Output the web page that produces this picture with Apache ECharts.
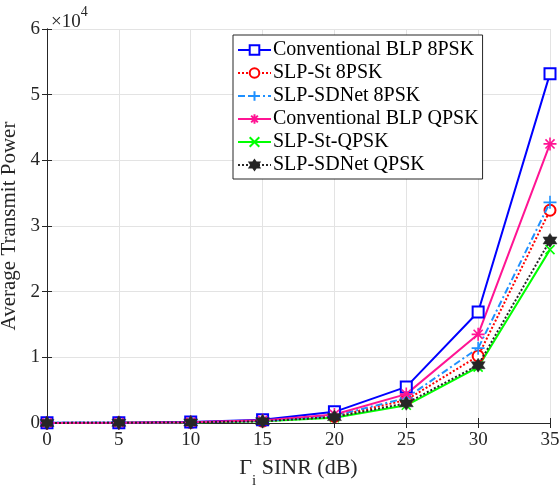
<!DOCTYPE html>
<html><head><meta charset="utf-8">
<script src="https://cdn.jsdelivr.net/npm/echarts@6/dist/echarts.min.js"></script>
<style>html,body{margin:0;padding:0;background:#fff}#c{width:560px;height:488px}</style>
</head><body><div id="c"></div>
<script>
const sinr = [0, 5, 10, 15, 20, 25, 30, 35];
const blp8 = [20, 50, 150, 500, 1700, 5500, 16900, 53200];
const st8 = [15, 35, 100, 300, 1000, 3500, 10200, 32400];
const sd8 = [16, 38, 105, 320, 1100, 3800, 11400, 33600];
const blpQ = [18, 45, 120, 400, 1300, 4400, 13500, 42500];
const stQ = [12, 30, 80, 250, 800, 2700, 8500, 26400];
const sdQ = [13, 32, 85, 270, 900, 3000, 8800, 27800];
const yTicks = [0, 1, 2, 3, 4, 5, 6];

const F = '"Liberation Serif", "Times New Roman", serif';
const plus = 'path://M5,0L5,10M0,5L10,5';
const cross = 'path://M0,0L10,10M0,10L10,0';
const aster = 'path://M5,0L5,10M0,5L10,5M1.5,1.5L8.5,8.5M1.5,8.5L8.5,1.5';
const hexa = 'path://M5,0L6.45,2.5L9.33,2.5L7.9,5L9.33,7.5L6.45,7.5L5,10L3.55,7.5L0.67,7.5L2.1,5L0.67,2.5L3.55,2.5Z';

function mk(name, data, color, type, symbol, size, extra) {
  return Object.assign({
    name, type: 'line', data: sinr.map((x, i) => [x, data[i]]),
    symbol, symbolSize: size, showAllSymbol: true,
    lineStyle: { color, width: 2, type },
    itemStyle: { color, borderColor: color, borderWidth: 1.6 },
    emphasis: { disabled: true }, animation: false
  }, extra || {});
}

const chart = echarts.init(document.getElementById('c'), null, { renderer: 'canvas' });
chart.setOption({
  animation: false,
  backgroundColor: '#fff',
  title: {
    left: 46, top: 0,
    text: '{a|×10}{b|4}',
    textStyle: { fontWeight: 'normal', rich: {
      a: { fontFamily: F, fontSize: 19, fontWeight: 'normal', color: '#262626', padding: [8, 0, 0, 0] },
      b: { fontFamily: F, fontSize: 14, fontWeight: 'normal', color: '#262626', verticalAlign: 'top', padding: [0, 0, 8, 0] }
    } }
  },
  grid: { left: 47, right: 10, top: 29, bottom: 65, containLabel: false, outerBoundsMode: 'none' },
  legend: {
    left: 233, top: 35, orient: 'vertical',
    backgroundColor: '#fff', borderColor: '#262626', borderWidth: 1,
    padding: [5, 4, 4, 4], itemGap: 3, itemWidth: 33, itemHeight: 12,
    textStyle: { fontFamily: F, fontSize: 20, color: '#000', padding: [0, 0, 0, -3] },
    data: ['Conventional BLP 8PSK', 'SLP-St 8PSK', 'SLP-SDNet 8PSK', 'Conventional BLP QPSK', 'SLP-St-QPSK', 'SLP-SDNet QPSK']
  },
  xAxis: [{
    type: 'value', min: 0, max: 35, interval: 5,
    name: '{g|Γ}{s|i}{g| SINR (dB)}', nameLocation: 'middle', nameGap: 34,
    nameTextStyle: { rich: {
      g: { fontFamily: F, fontSize: 22, color: '#262626' },
      s: { fontFamily: F, fontSize: 15, color: '#262626', verticalAlign: 'bottom', padding: [0, 0, -10, 0] }
    } },
    axisLine: { lineStyle: { color: '#262626', width: 1 } },
    axisTick: { inside: true, length: 5, lineStyle: { color: '#262626' } },
    axisLabel: { fontFamily: F, fontSize: 19, color: '#262626', margin: 8 },
    splitLine: { show: true, lineStyle: { color: '#e3e3e3', width: 1 } }
  }, {
    type: 'value', min: 0, max: 35, interval: 5, position: 'top',
    axisLine: { show: true, lineStyle: { color: '#262626', width: 1 } },
    axisTick: { inside: true, length: 5, lineStyle: { color: '#262626' } },
    axisLabel: { show: false }, splitLine: { show: false }
  }],
  yAxis: [{
    type: 'value', min: 0, max: 60000, interval: 10000,
    name: 'Average Transmit Power', nameLocation: 'middle', nameGap: 22,
    nameTextStyle: { fontFamily: F, fontSize: 21, color: '#262626' },
    axisLine: { show: true, lineStyle: { color: '#262626', width: 1 } },
    axisTick: { inside: true, length: 5, lineStyle: { color: '#262626' } },
    axisLabel: { fontFamily: F, fontSize: 19, color: '#262626', margin: 7, formatter: v => String(yTicks[Math.round(v / 10000)]) },
    splitLine: { show: true, lineStyle: { color: '#e3e3e3', width: 1 } }
  }, {
    type: 'value', min: 0, max: 60000, interval: 10000, position: 'right',
    axisLine: { show: true, lineStyle: { color: '#262626', width: 1 } },
    axisTick: { inside: true, length: 5, lineStyle: { color: '#262626' } },
    axisLabel: { show: false }, splitLine: { show: false }
  }],
  series: [
    mk('Conventional BLP 8PSK', blp8, '#0000ff', 'solid', 'emptyRect', 11, { z: 6 }),
    mk('SLP-St 8PSK', st8, '#ff0000', [2, 2], 'emptyCircle', 11, { z: 4 }),
    mk('SLP-SDNet 8PSK', sd8, '#1e90ff', [7, 3, 2, 3], plus, 13, { z: 5 }),
    mk('Conventional BLP QPSK', blpQ, '#ff1493', 'solid', aster, 13, { z: 6 }),
    mk('SLP-St-QPSK', stQ, '#00ff00', 'solid', cross, 9, { z: 3 }),
    Object.assign(mk('SLP-SDNet QPSK', sdQ, '#262626', [2, 2], hexa, 14, { z: 7 }),
      { itemStyle: { color: '#262626', borderColor: '#262626', borderWidth: 0.5 } })
  ]
});
</script></body></html>
